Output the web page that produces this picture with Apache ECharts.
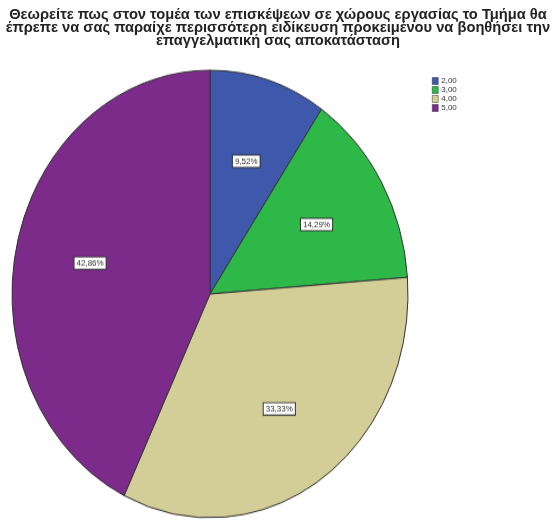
<!DOCTYPE html>
<html>
<head>
<meta charset="utf-8">
<script src="https://cdn.jsdelivr.net/npm/echarts@6/dist/echarts.min.js"></script>
<style>
  body { margin: 0; background: #fff; }
  #pie, #main { position: absolute; left: 0; top: 0; width: 556px; height: 520px; }
  /* the original pie is slightly taller than wide */
  #pie { transform: scaleY(1.13); transform-origin: 210px 294px; }
</style>
</head>
<body>
<div id="pie"></div>
<div id="main"></div>
<script>
var categories = ['2,00', '3,00', '4,00', '5,00'];
var values = [2, 3, 7, 9];
var colors = ['#3e58ac', '#2eb848', '#d3ce97', '#7c2b8b'];
var titleText = 'Θεωρείτε πως στον τομέα των επισκέψεων σε χώρους εργασίας το Τμήμα θα\n' +
  'έπρεπε να σας παραίχε περισσότερη ειδίκευση προκειμένου να βοηθήσει την\n' +
  'επαγγελματική σας αποκατάσταση';

var total = values.reduce(function (a, b) { return a + b; }, 0);
var datas = categories.map(function (c, i) { return { name: c, value: values[i] }; });

function pctLabel(p) {
  return (p.value / total * 100).toFixed(2).replace('.', ',') + '%';
}

// pie slices + labels
var pieChart = echarts.init(document.getElementById('pie'));
pieChart.setOption({
  animation: false,
  color: colors,
  series: [
    {
      type: 'pie',
      radius: [0, 198],
      center: [210, 294],
      startAngle: 90,
      silent: true,
      itemStyle: { borderColor: '#333', borderWidth: 1 },
      label: { show: false },
      labelLine: { show: false },
      data: datas
    },
    {
      // transparent ring only used to place labels a bit further out
      type: 'pie',
      radius: [0, 240],
      center: [210, 294],
      startAngle: 90,
      silent: true,
      itemStyle: { color: 'rgba(0,0,0,0)', borderWidth: 0 },
      label: {
        show: true,
        position: 'inside',
        formatter: pctLabel,
        fontFamily: 'Liberation Sans',
        fontSize: 8,
        color: '#333',
        backgroundColor: '#fff',
        borderColor: '#333',
        borderWidth: 1,
        padding: [1, 2]
      },
      labelLine: { show: false },
      data: datas
    }
  ]
});

// title + legend
var mainChart = echarts.init(document.getElementById('main'));
mainChart.setOption({
  animation: false,
  color: colors,
  title: {
    text: titleText,
    left: 'center',
    top: 3,
    textStyle: {
      fontFamily: 'Liberation Sans',
      fontSize: 14.7,
      fontWeight: 'bold',
      color: '#222',
      lineHeight: 13
    }
  },
  legend: {
    orient: 'vertical',
    left: 427,
    top: 72,
    itemWidth: 6,
    itemHeight: 7,
    itemGap: 1,
    icon: 'rect',
    itemStyle: { borderColor: '#333', borderWidth: 0.5 },
    textStyle: { fontFamily: 'Liberation Sans', fontSize: 8, color: '#333', padding: [0, 0, 0, -2] },
    data: categories
  },
  series: [{
    type: 'pie',
    radius: [0, 0],
    silent: true,
    label: { show: false },
    data: datas
  }]
});
</script>
</body>
</html>
